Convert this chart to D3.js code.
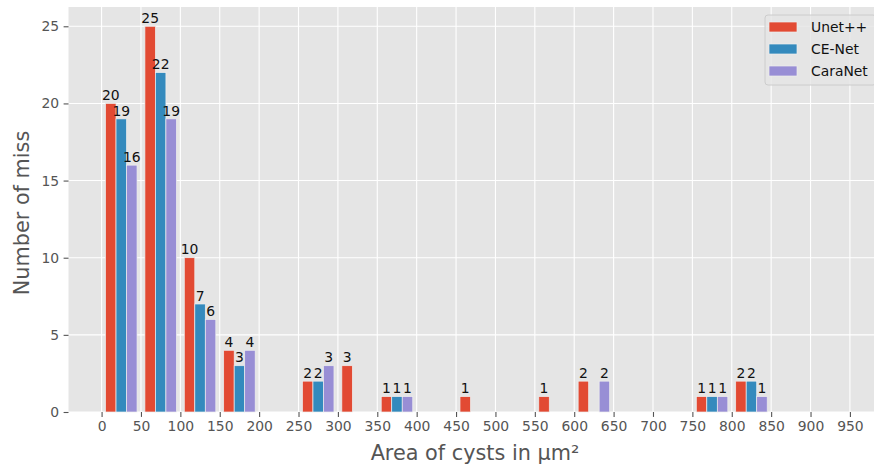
<!DOCTYPE html>
<html>
<head>
<meta charset="utf-8">
<script src="https://cdn.jsdelivr.net/npm/d3@7"></script>
<style>
  html, body { margin: 0; padding: 0; background: #ffffff; }
  svg { display: block; font-family: "DejaVu Sans", sans-serif; }
</style>
</head>
<body>
<svg id="chart" width="874" height="465"></svg>
<script>
// Histogram bins (left edges, width 50 µm²)
const binStarts = [0, 50, 100, 150, 200, 250, 300, 350, 400, 450, 500, 550, 600, 650, 700, 750, 800, 850, 900];
const binWidth = 50;

// Missed cysts per area bin, one array per model
const seriesNames = ["Unet++", "CE-Net", "CaraNet"];
const unetpp  = [20, 25, 10, 4, 0, 2, 3, 1, 0, 1, 0, 1, 2, 0, 0, 1, 2, 0, 0];
const cenet   = [19, 22, 7, 3, 0, 2, 0, 1, 0, 0, 0, 0, 0, 0, 0, 1, 2, 0, 0];
const caranet = [16, 19, 6, 4, 0, 3, 0, 1, 0, 0, 0, 0, 2, 0, 0, 1, 1, 0, 0];
const seriesValues = [unetpp, cenet, caranet];
const seriesColors = ["#E24A33", "#348ABD", "#988ED5"];

// Axis ticks
const xTicks = [0, 50, 100, 150, 200, 250, 300, 350, 400, 450, 500, 550, 600, 650, 700, 750, 800, 850, 900, 950];
const yTicks = [0, 5, 10, 15, 20, 25];

const xLabel = "Area of cysts in µm²";
const yLabel = "Number of miss";

const svg = d3.select("#chart");
const plot = { left: 68.5, right: 883, top: 7, bottom: 412 };

const x = d3.scaleLinear().domain([-42, 992]).range([plot.left, plot.right]);
const y = d3.scaleLinear().domain([0, 26.25]).range([plot.bottom, plot.top]);

// Plot background
svg.append("rect")
  .attr("x", plot.left).attr("y", plot.top)
  .attr("width", plot.right - plot.left).attr("height", plot.bottom - plot.top)
  .attr("fill", "#E5E5E5");

// Grid
const grid = svg.append("g").attr("stroke", "#ffffff").attr("stroke-width", 1.1);
grid.selectAll("line.gx").data(xTicks).join("line")
  .attr("class", "gx")
  .attr("x1", d => x(d)).attr("x2", d => x(d))
  .attr("y1", plot.top).attr("y2", plot.bottom);
grid.selectAll("line.gy").data(yTicks).join("line")
  .attr("class", "gy")
  .attr("x1", plot.left).attr("x2", plot.right)
  .attr("y1", d => y(d)).attr("y2", d => y(d));

// Grouped bars: 80% of each bin shared by the three series
const nSeries = seriesValues.length;
const groupWidth = binWidth * 0.8;
const barWidth = groupWidth / nSeries;
const groupOffset = (binWidth - groupWidth) / 2;

const bars = [];
seriesValues.forEach((vals, si) => {
  vals.forEach((v, bi) => {
    bars.push({ si, v, x0: binStarts[bi] + groupOffset + si * barWidth });
  });
});

svg.append("g").selectAll("rect").data(bars.filter(d => d.v > 0)).join("rect")
  .attr("x", d => x(d.x0))
  .attr("width", d => x(d.x0 + barWidth) - x(d.x0))
  .attr("y", d => y(d.v))
  .attr("height", d => y(0) - y(d.v))
  .attr("fill", d => seriesColors[d.si])
  .attr("stroke", "#EEEEEE")
  .attr("stroke-width", 0.7);

// Value labels above non-empty bars
svg.append("g").selectAll("text").data(bars.filter(d => d.v > 0)).join("text")
  .attr("x", d => x(d.x0 + barWidth / 2))
  .attr("y", d => y(d.v) - 3.3)
  .attr("text-anchor", "middle")
  .attr("font-size", 13.9)
  .attr("fill", "#111111")
  .text(d => d.v);

// Axes
const xAxis = d3.axisBottom(x).tickValues(xTicks).tickSize(4.9).tickPadding(4.2).tickFormat(d3.format("d"));
const yAxis = d3.axisLeft(y).tickValues(yTicks).tickSize(4.9).tickPadding(4.5).tickFormat(d3.format("d"));

const gx = svg.append("g").attr("transform", `translate(0,${plot.bottom})`).call(xAxis);
const gy = svg.append("g").attr("transform", `translate(${plot.left},0)`).call(yAxis);
[gx, gy].forEach(g => {
  g.select(".domain").remove();
  g.selectAll(".tick line").attr("stroke", "#555555").attr("stroke-width", 1.1);
  g.selectAll(".tick text").attr("fill", "#555555").attr("font-size", 13.9)
    .attr("font-family", "DejaVu Sans, sans-serif");
});

// Axis titles
svg.append("text")
  .attr("x", 475).attr("y", 460)
  .attr("text-anchor", "middle").attr("font-size", 20.8).attr("fill", "#555555")
  .text(xLabel);
svg.append("text")
  .attr("transform", `translate(28.5,213) rotate(-90)`)
  .attr("text-anchor", "middle").attr("font-size", 20.8).attr("fill", "#555555")
  .text(yLabel);

// Legend
const legend = svg.append("g").attr("transform", "translate(765,15)");
legend.append("rect")
  .attr("x", 0).attr("y", 0).attr("width", 111).attr("height", 70)
  .attr("rx", 3).attr("ry", 3)
  .attr("fill", "#E5E5E5").attr("fill-opacity", 0.8)
  .attr("stroke", "#CCCCCC").attr("stroke-width", 1);
const rows = legend.selectAll("g.row").data(seriesNames).join("g")
  .attr("class", "row")
  .attr("transform", (d, i) => `translate(0,${12 + i * 22})`);
rows.append("rect")
  .attr("x", 4).attr("y", -5).attr("width", 28).attr("height", 10)
  .attr("fill", (d, i) => seriesColors[i])
  .attr("stroke", "#EEEEEE").attr("stroke-width", 0.7);
rows.append("text")
  .attr("x", 46).attr("y", 5)
  .attr("font-size", 13.9).attr("fill", "#111111")
  .text(d => d);
</script>
</body>
</html>
